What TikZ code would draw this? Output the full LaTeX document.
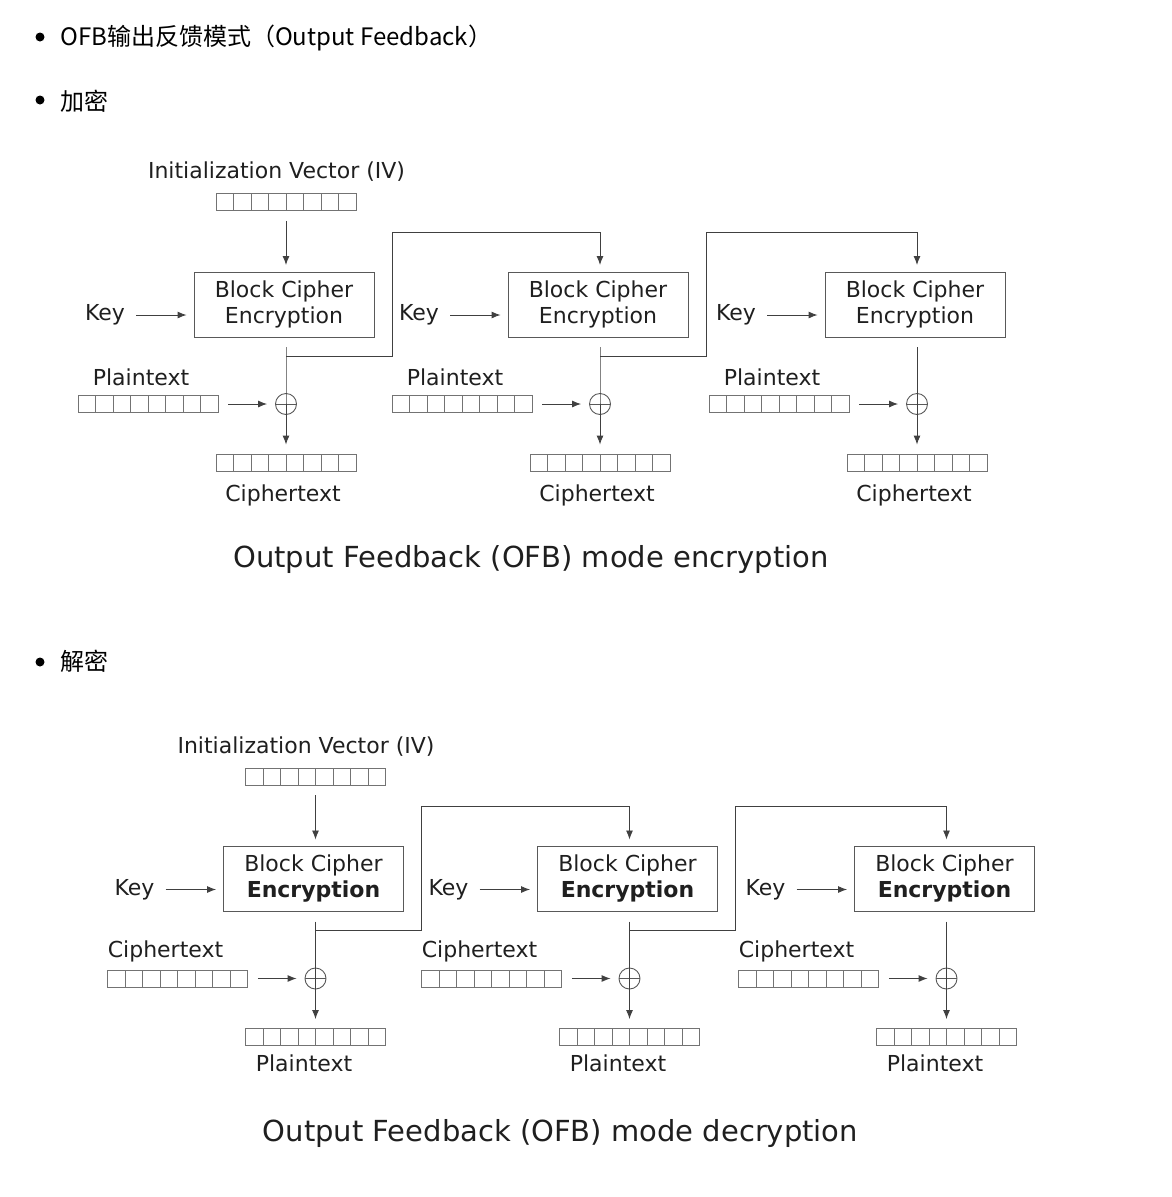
\documentclass[tikz,border=0pt]{standalone}
\usepackage{fontspec}
\setmainfont{DejaVu Sans}
\newfontfamily\cjkfont{Noto Sans CJK SC}
\usetikzlibrary{arrows.meta,positioning}
\tikzset{
  reg/.style={draw=black!55, line width=0.9pt, minimum width=140pt, minimum height=17pt, inner sep=0pt,
    path picture={\foreach \k in {1,...,7} \draw[black!55, line width=0.9pt] ([xshift=\k*17.5pt]path picture bounding box.south west) -- ++(0pt,17pt);}},
  cipher/.style={draw=black!65, line width=0.9pt, minimum width=180pt, minimum height=65pt, inner sep=0pt, align=center, text=black!88, font=\fontsize{22}{26}\selectfont},
  xorop/.style={draw=black!65, line width=0.9pt, circle, minimum size=21pt, inner sep=0pt,
    path picture={\draw[black!65, line width=0.9pt] (path picture bounding box.west) -- (path picture bounding box.east);}},
  lbl/.style={inner sep=0pt, text=black!88, font=\fontsize{22}{26}\selectfont},
  flow/.style={draw=black!75, line width=0.9pt, -{Latex[length=9pt,width=7pt]}},
  wire/.style={draw=black!75, line width=0.9pt},
  dot/.style={circle, fill=black, minimum size=9pt, inner sep=0pt},
  head/.style={anchor=west, inner sep=0pt, font=\cjkfont\fontsize{24}{30}\selectfont}
}

\begin{document}
\begin{tikzpicture}[x=1pt,y=-1pt]
\useasboundingbox (0,0) rectangle (1171,1197);

% Headings
\node[dot] (b1) at (40,37) {};
\node[head] (h1) at (60,37.5) {OFB输出反馈模式（Output Feedback）};
\node[dot] (b2) at (40,100) {};
\node[head] (h2) at (60,101) {加密};
\node[dot] (b3) at (40,662) {};
\node[head] (h3) at (60,661.5) {解密};

% Encryption (e) and decryption (d)
\foreach \m/\dx/\dy/\inp/\outp/\wt/\mode/\ilx/\olx/\oly in
  {e/0/0/Plaintext/Ciphertext/\mdseries/encryption/145/3/495,
   d/29.5/574.5/Ciphertext/Plaintext/\bfseries/decryption/150/11.5/488.5} {
\begin{scope}[shift={(\dx,\dy)}]
  % IV
  \node[lbl] (\m-ivl) at (276.5,172) {Initialization Vector (IV)};
  \node[reg] (\m-iv) at (286,202) {};

  % Stages
  \foreach \s/\cx in {1/286,2/600,3/917} {
    \node[cipher] (\m-blk-\s) at (\cx-2,304.5) {Block Cipher\\{\wt Encryption}};
    \node[lbl] (\m-key-\s) at (\cx-181,315) {Key};
    \node[lbl] (\m-inl-\s) at (\cx-\ilx,377) {\inp};
    \node[reg] (\m-in-\s) at (\cx-138,404) {};
    \node[xorop] (\m-xor-\s) at (\cx,404) {};
    \node[reg] (\m-out-\s) at (\cx,462.5) {};
    \node[lbl] (\m-outl-\s) at (\cx-\olx,\oly) {\outp};
    \coordinate (\m-ent-\s) at (\cx,265);
    \coordinate (\m-top-\s) at (\cx,347);
    \coordinate (\m-fb-\s) at (\cx,356);
    \coordinate (\m-up-\s) at (\cx+106,232);

    \draw[flow, shorten <=11pt, shorten >=7pt] (\m-key-\s.east) -- (\m-key-\s.east -| \m-blk-\s.west);
    \draw[flow, shorten <=10pt, shorten >=8pt] (\m-in-\s.east) -- (\m-xor-\s.west);
    \draw[wire] (\m-top-\s) -- (\m-xor-\s.north) -- (\m-xor-\s.south);
    \draw[flow, shorten >=9pt] (\m-xor-\s.south) -- (\m-out-\s.north);
  }

  % Data flow
  \draw[flow, shorten <=10pt] (\m-iv.south) -- (\m-ent-1);
  \draw[flow] (\m-fb-1) -| (\m-up-1) -| (\m-ent-2);
  \draw[flow] (\m-fb-2) -| (\m-up-2) -| (\m-ent-3);

  % Caption
  \node[inner sep=0pt, text=black!88, font=\fontsize{29}{34}\selectfont] (\m-title) at (531,559) {Output Feedback (OFB) mode \mode};
\end{scope}
}
\end{tikzpicture}
\end{document}
